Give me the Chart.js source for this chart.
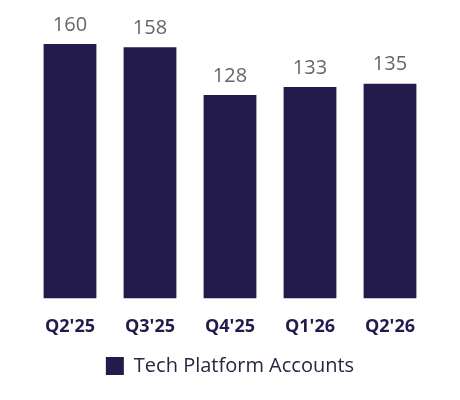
<!DOCTYPE html>
<html>
<head>
<meta charset="utf-8">
<script src="https://cdn.jsdelivr.net/npm/chart.js@4"></script>
<style>
  html, body { margin: 0; padding: 0; background: #fff; }
  #wrap { width: 460px; height: 400px; }
</style>
</head>
<body>
<div id="wrap"><canvas id="chart" width="460" height="400"></canvas></div>
<script>
// chart data
const quarters = ["Q2'25", "Q3'25", "Q4'25", "Q1'26", "Q2'26"];
const accounts = [160, 158, 128, 133, 135];
const seriesName = 'Tech Platform Accounts';

const barColor = '#221b4b';

// draws the value above each bar
const valueLabels = {
  id: 'valueLabels',
  afterDatasetsDraw(chart) {
    const ctx = chart.ctx;
    const meta = chart.getDatasetMeta(0);
    ctx.save();
    ctx.font = '20px "Open Sans", sans-serif';
    ctx.fillStyle = '#666666';
    ctx.textAlign = 'center';
    ctx.textBaseline = 'middle';
    meta.data.forEach((bar, i) => {
      ctx.fillText(String(accounts[i]), bar.x, bar.y - 19);
    });
    ctx.restore();
  }
};

new Chart(document.getElementById('chart').getContext('2d'), {
  type: 'bar',
  data: {
    labels: quarters,
    datasets: [{
      label: seriesName,
      data: accounts,
      backgroundColor: barColor,
      borderWidth: 0,
      barPercentage: 0.66,
      categoryPercentage: 1.0
    }]
  },
  options: {
    responsive: false,
    animation: false,
    layout: { padding: { left: 30, right: 30, top: 44, bottom: 14 } },
    scales: {
      x: {
        grid: { display: false },
        border: { display: false },
        ticks: {
          color: '#221b4b',
          padding: 10,
          font: { family: '"Open Sans", sans-serif', size: 18, weight: 'bold' }
        }
      },
      y: {
        display: false,
        min: 0,
        max: 160
      }
    },
    plugins: {
      legend: {
        position: 'bottom',
        labels: {
          boxWidth: 18,
          boxHeight: 18,
          color: '#2a2540',
          padding: 8,
          font: { family: '"Open Sans", sans-serif', size: 20 }
        }
      },
      tooltip: { enabled: false }
    }
  },
  plugins: [valueLabels]
});
</script>
</body>
</html>
